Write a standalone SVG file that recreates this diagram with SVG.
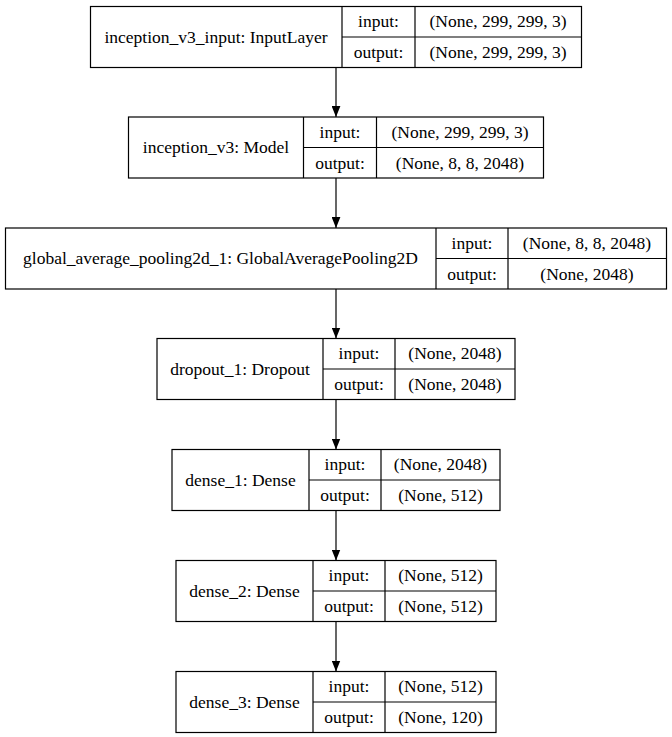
<svg xmlns="http://www.w3.org/2000/svg" width="672" height="737" viewBox="0 0 672 737">
<style>
rect{fill:#fff;stroke:#000;stroke-width:1.2}
line{stroke:#000;stroke-width:1.2}
text{font-family:"Liberation Serif","Noto Serif","DejaVu Serif",Tinos,"Times New Roman",Times,"Nimbus Roman","FreeSerif",serif;font-size:17.5px;fill:#000;text-anchor:middle}
</style>
<defs>
<marker id="ah" markerWidth="11" markerHeight="9" refX="10" refY="4" orient="auto" markerUnits="userSpaceOnUse" viewBox="0 0 10 8">
<path d="M0,0 L10,4 L0,8 Z" fill="#000" stroke="none"/>
</marker>
</defs>
<rect width="672" height="737" style="fill:#fff;stroke:none"/>
<g id="connectors">
<line x1="336" y1="67.5" x2="336" y2="117" marker-end="url(#ah)"/>
<line x1="336" y1="178" x2="336" y2="228" marker-end="url(#ah)"/>
<line x1="336" y1="289" x2="336" y2="338.5" marker-end="url(#ah)"/>
<line x1="336" y1="399.5" x2="336" y2="449.5" marker-end="url(#ah)"/>
<line x1="336" y1="510.5" x2="336" y2="560.5" marker-end="url(#ah)"/>
<line x1="336" y1="621.5" x2="336" y2="671.5" marker-end="url(#ah)"/>
</g>
<g id="inception_v3_input">
<rect x="90.5" y="6.5" width="491" height="61"/>
<line x1="342" y1="6.5" x2="342" y2="67.5"/>
<line x1="415" y1="6.5" x2="415" y2="67.5"/>
<line x1="342" y1="37" x2="581.5" y2="37"/>
<text x="216" y="42.5">inception_v3_input: InputLayer</text>
<text x="378.5" y="27">input:</text>
<text x="378.5" y="58">output:</text>
<text x="498" y="27">(None, 299, 299, 3)</text>
<text x="498" y="58">(None, 299, 299, 3)</text>
</g>
<g id="inception_v3">
<rect x="128.5" y="117" width="415" height="61"/>
<line x1="303.5" y1="117" x2="303.5" y2="178"/>
<line x1="376.5" y1="117" x2="376.5" y2="178"/>
<line x1="303.5" y1="147.5" x2="543.5" y2="147.5"/>
<text x="216" y="153">inception_v3: Model</text>
<text x="340" y="137.5">input:</text>
<text x="340" y="168.5">output:</text>
<text x="460" y="137.5">(None, 299, 299, 3)</text>
<text x="460" y="168.5">(None, 8, 8, 2048)</text>
</g>
<g id="global_average_pooling2d_1">
<rect x="5.5" y="228" width="661" height="61"/>
<line x1="436" y1="228" x2="436" y2="289"/>
<line x1="508" y1="228" x2="508" y2="289"/>
<line x1="436" y1="258.5" x2="666.5" y2="258.5"/>
<text x="220.5" y="264">global_average_pooling2d_1: GlobalAveragePooling2D</text>
<text x="472" y="248.5">input:</text>
<text x="472" y="279.5">output:</text>
<text x="587" y="248.5">(None, 8, 8, 2048)</text>
<text x="587" y="279.5">(None, 2048)</text>
</g>
<g id="dropout_1">
<rect x="157" y="338.5" width="358" height="61"/>
<line x1="323" y1="338.5" x2="323" y2="399.5"/>
<line x1="395" y1="338.5" x2="395" y2="399.5"/>
<line x1="323" y1="369" x2="515" y2="369"/>
<text x="240" y="374.5">dropout_1: Dropout</text>
<text x="359" y="359">input:</text>
<text x="359" y="390">output:</text>
<text x="455" y="359">(None, 2048)</text>
<text x="455" y="390">(None, 2048)</text>
</g>
<g id="dense_1">
<rect x="172" y="449.5" width="328" height="61"/>
<line x1="309" y1="449.5" x2="309" y2="510.5"/>
<line x1="381" y1="449.5" x2="381" y2="510.5"/>
<line x1="309" y1="480" x2="500" y2="480"/>
<text x="240.5" y="485.5">dense_1: Dense</text>
<text x="345" y="470">input:</text>
<text x="345" y="501">output:</text>
<text x="440.5" y="470">(None, 2048)</text>
<text x="440.5" y="501">(None, 512)</text>
</g>
<g id="dense_2">
<rect x="176" y="560.5" width="320" height="61"/>
<line x1="313" y1="560.5" x2="313" y2="621.5"/>
<line x1="385" y1="560.5" x2="385" y2="621.5"/>
<line x1="313" y1="591" x2="496" y2="591"/>
<text x="244.5" y="596.5">dense_2: Dense</text>
<text x="349" y="581">input:</text>
<text x="349" y="612">output:</text>
<text x="440.5" y="581">(None, 512)</text>
<text x="440.5" y="612">(None, 512)</text>
</g>
<g id="dense_3">
<rect x="176" y="671.5" width="320" height="61"/>
<line x1="313" y1="671.5" x2="313" y2="732.5"/>
<line x1="385" y1="671.5" x2="385" y2="732.5"/>
<line x1="313" y1="702" x2="496" y2="702"/>
<text x="244.5" y="707.5">dense_3: Dense</text>
<text x="349" y="692">input:</text>
<text x="349" y="723">output:</text>
<text x="440.5" y="692">(None, 512)</text>
<text x="440.5" y="723">(None, 120)</text>
</g>
</svg>
